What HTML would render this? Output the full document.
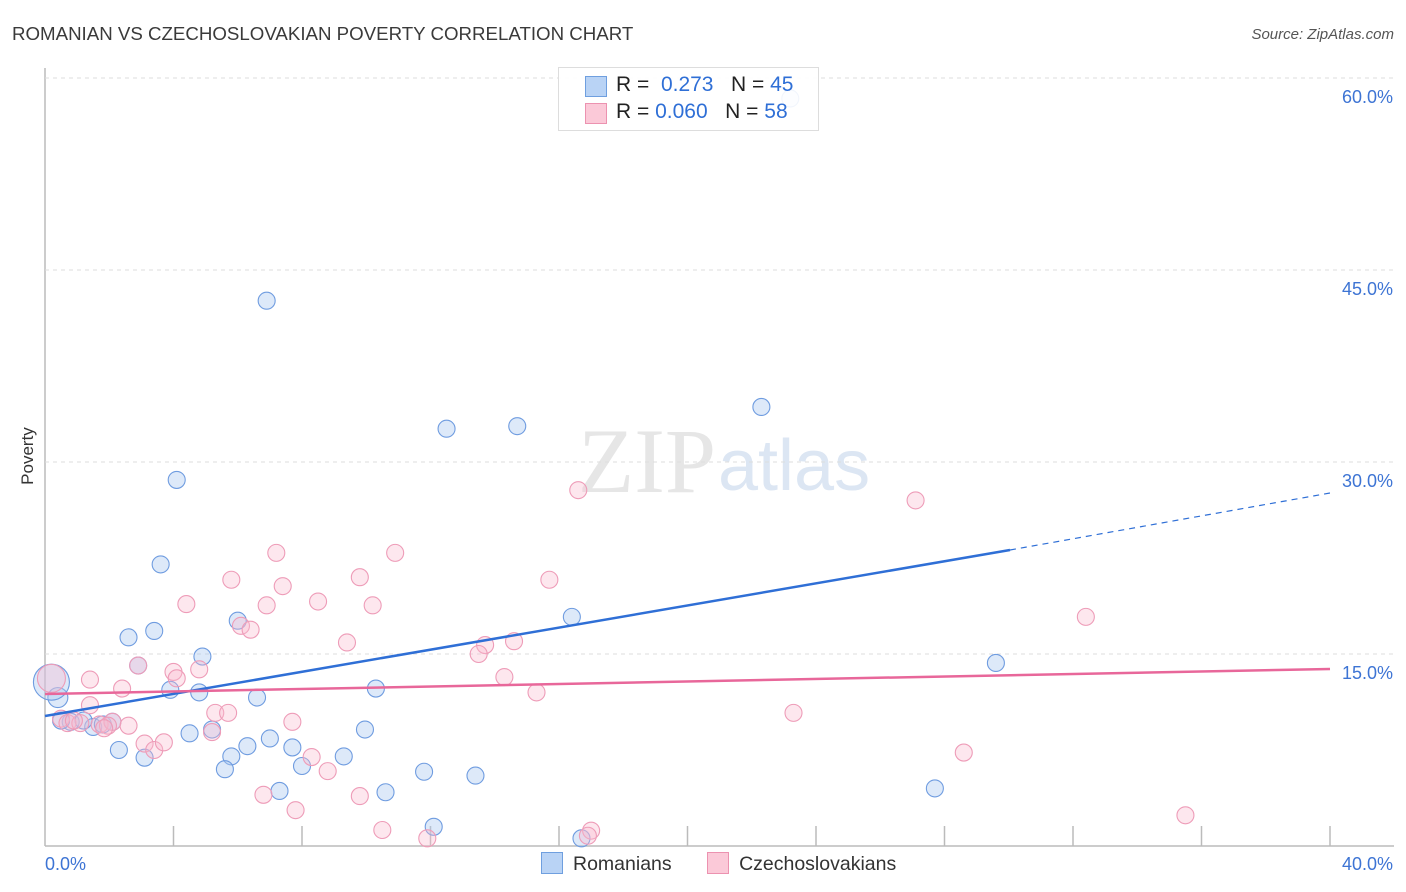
<!DOCTYPE html>
<html><head><meta charset="utf-8"><style>
body{margin:0;background:#fff;font-family:"Liberation Sans",sans-serif;}
svg{display:block}
</style></head><body>
<svg id="chart" width="1406" height="892" xmlns="http://www.w3.org/2000/svg">
<text x="12" y="40" font-size="18.7" fill="#3a3a3a" font-family="Liberation Sans">ROMANIAN VS CZECHOSLOVAKIAN POVERTY CORRELATION CHART</text>
<text x="1394" y="39" font-size="15" fill="#555" font-style="italic" text-anchor="end">Source: ZipAtlas.com</text>
<text x="33" y="456" font-size="17" fill="#333" transform="rotate(-90 33 456)" text-anchor="middle">Poverty</text>
<text x="716" y="492" font-size="92" fill="#e6e6e6" text-anchor="end" font-family="Liberation Serif">ZIP</text>
<text x="718" y="490" font-size="72" fill="#dce6f3">atlas</text>
<g id="grid"></g><g id="marks"></g><g id="trends"></g>
</svg>
<script>
const xTicks=[0,4,8,12,16,20,24,28,32,36,40];
const yTicks=[15,30,45,60];
const romX=[6.9,4.1,3.6,12.5,14.7,22.3,16.4,29.6,27.7,12.1,16.7,23.2,2.6,3.4,6.0,2.9,4.9,3.9,4.8,6.6,10.3,0.4,0.2,1.5,0.8,1.8,2.1,5.2,4.5,7.0,6.3,7.7,5.8,2.3,3.1,9.3,9.96,8.0,5.6,7.3,10.6,11.8,13.4,1.2,0.5];
const romY=[42.6,28.6,22.0,32.6,32.8,34.3,17.9,14.3,4.5,1.5,0.6,58.4,16.3,16.8,17.6,14.1,14.8,12.2,12.0,11.6,12.3,11.6,12.8,9.3,9.7,9.5,9.7,9.1,8.8,8.4,7.8,7.7,7.0,7.5,6.9,7.0,9.1,6.25,6.0,4.3,4.2,5.8,5.5,9.8,9.8];
const czX=[16.6,27.1,7.2,10.9,5.8,9.8,15.7,7.4,4.4,6.9,8.5,10.2,32.4,6.1,6.4,9.4,13.7,14.6,13.5,2.9,4.0,4.8,4.1,2.4,1.4,14.3,15.3,0.2,1.4,5.3,5.7,7.7,23.3,0.5,0.7,1.1,1.7,2.1,2.6,5.2,3.1,3.4,3.7,8.3,8.8,28.6,6.8,7.8,9.8,10.5,11.9,17.0,16.9,35.5,1.96,0.9,1.84];
const czY=[27.8,27.0,22.9,22.9,20.8,21.0,20.8,20.3,18.9,18.8,19.1,18.8,17.9,17.2,16.9,15.9,15.7,16.0,15.0,14.1,13.6,13.8,13.1,12.3,13.0,13.2,12.0,13.1,11.0,10.4,10.4,9.7,10.4,9.95,9.6,9.6,9.5,9.7,9.4,8.9,8.0,7.5,8.1,6.95,5.85,7.3,4.0,2.8,3.9,1.25,0.6,1.2,0.8,2.4,9.4,9.8,9.2];
const X=v=>45+v*32.125, Y=v=>846-v*12.8;
const NS='http://www.w3.org/2000/svg';
function mk(t,a,p){const e=document.createElementNS(NS,t);for(const k in a)e.setAttribute(k,a[k]);p.appendChild(e);return e;}
const grid=document.getElementById('grid'),marks=document.getElementById('marks'),tr=document.getElementById('trends');
let ax=mk('line',{x1:45,y1:68,x2:45,y2:846,stroke:'#bbb','stroke-width':1.5},grid);

let bx=mk('line',{x1:45,y1:846,x2:1394,y2:846,stroke:'#bbb','stroke-width':1.5},grid);

yTicks.forEach(v=>{
 const g=mk('line',{x1:45,y1:Y(v),x2:1394,y2:Y(v),stroke:'#ddd','stroke-dasharray':'4,4'},grid);
 
 const t=mk('text',{x:1393,y:Y(v)+25,'font-size':18,fill:'#3d74d4','text-anchor':'end'},grid);t.textContent=v.toFixed(1)+'%';
 
});
xTicks.forEach((v,i)=>{
 if(i>0){const l=mk('line',{x1:X(v),y1:826,x2:X(v),y2:846,stroke:'#bbb','stroke-width':1.5},grid);
 }
});
[[0,45,'start'],[40,1393,'end']].forEach(([v,px,an])=>{
 const t=mk('text',{x:px,y:870,'font-size':18,fill:'#3d74d4','text-anchor':an},grid);t.textContent=v.toFixed(1)+'%';
 
});
romX.forEach((x,i)=>{
 const c=mk('circle',{cx:X(x),cy:Y(romY[i]),r:(i==22?18:(i==21?10:8.5)),fill:'rgba(170,200,240,0.4)',stroke:'#6f9ce0','stroke-width':1.1},marks);
 
});
czX.forEach((x,i)=>{
 const c=mk('circle',{cx:X(x),cy:Y(czY[i]),r:(i==27?14:8.5),fill:'rgba(248,185,205,0.35)',stroke:'#ee9cb8','stroke-width':1.1},marks);
 
});
let l1=mk('line',{x1:X(0),y1:716,x2:1010,y2:550,stroke:'#2f6fd6','stroke-width':2.5},tr);

let l2=mk('line',{x1:1010,y1:550,x2:1330,y2:493,stroke:'#2f6fd6','stroke-width':1.2,'stroke-dasharray':'6,5'},tr);

let l3=mk('line',{x1:X(0),y1:694,x2:1330,y2:669,stroke:'#e8679a','stroke-width':2.5},tr);

</script>
<div style="position:absolute;left:558px;top:67px;width:259px;height:62px;border:1px solid #ddd;background:rgba(255,255,255,0.9);font-size:21px;color:#222">
 <div style="position:absolute;left:26px;top:8px;width:20px;height:19px;background:#b9d3f5;border:1px solid #6f9fdf"></div>
 <div style="position:absolute;left:57px;top:5px">R = &nbsp;<span style="color:#2f6fd6">0.273</span> &nbsp;&nbsp;N = <span style="color:#2f6fd6">45</span></div>
 <div style="position:absolute;left:26px;top:35px;width:20px;height:19px;background:#fbc9d8;border:1px solid #ec92b0"></div>
 <div style="position:absolute;left:57px;top:32px">R = <span style="color:#2f6fd6">0.060</span> &nbsp;&nbsp;N = <span style="color:#2f6fd6">58</span></div>
</div>
<div style="position:absolute;left:541px;top:852px;font-size:19.5px;color:#333;white-space:nowrap">
 <span><span style="display:inline-block;width:20px;height:20px;background:#b9d3f5;border:1px solid #6f9fdf;vertical-align:-4px;margin-right:10px"></span>Romanians</span>
 <span style="margin-left:30px"><span style="display:inline-block;width:20px;height:20px;background:#fbc9d8;border:1px solid #ec92b0;vertical-align:-4px;margin-right:10px"></span>Czechoslovakians</span>
</div>
</body></html>
